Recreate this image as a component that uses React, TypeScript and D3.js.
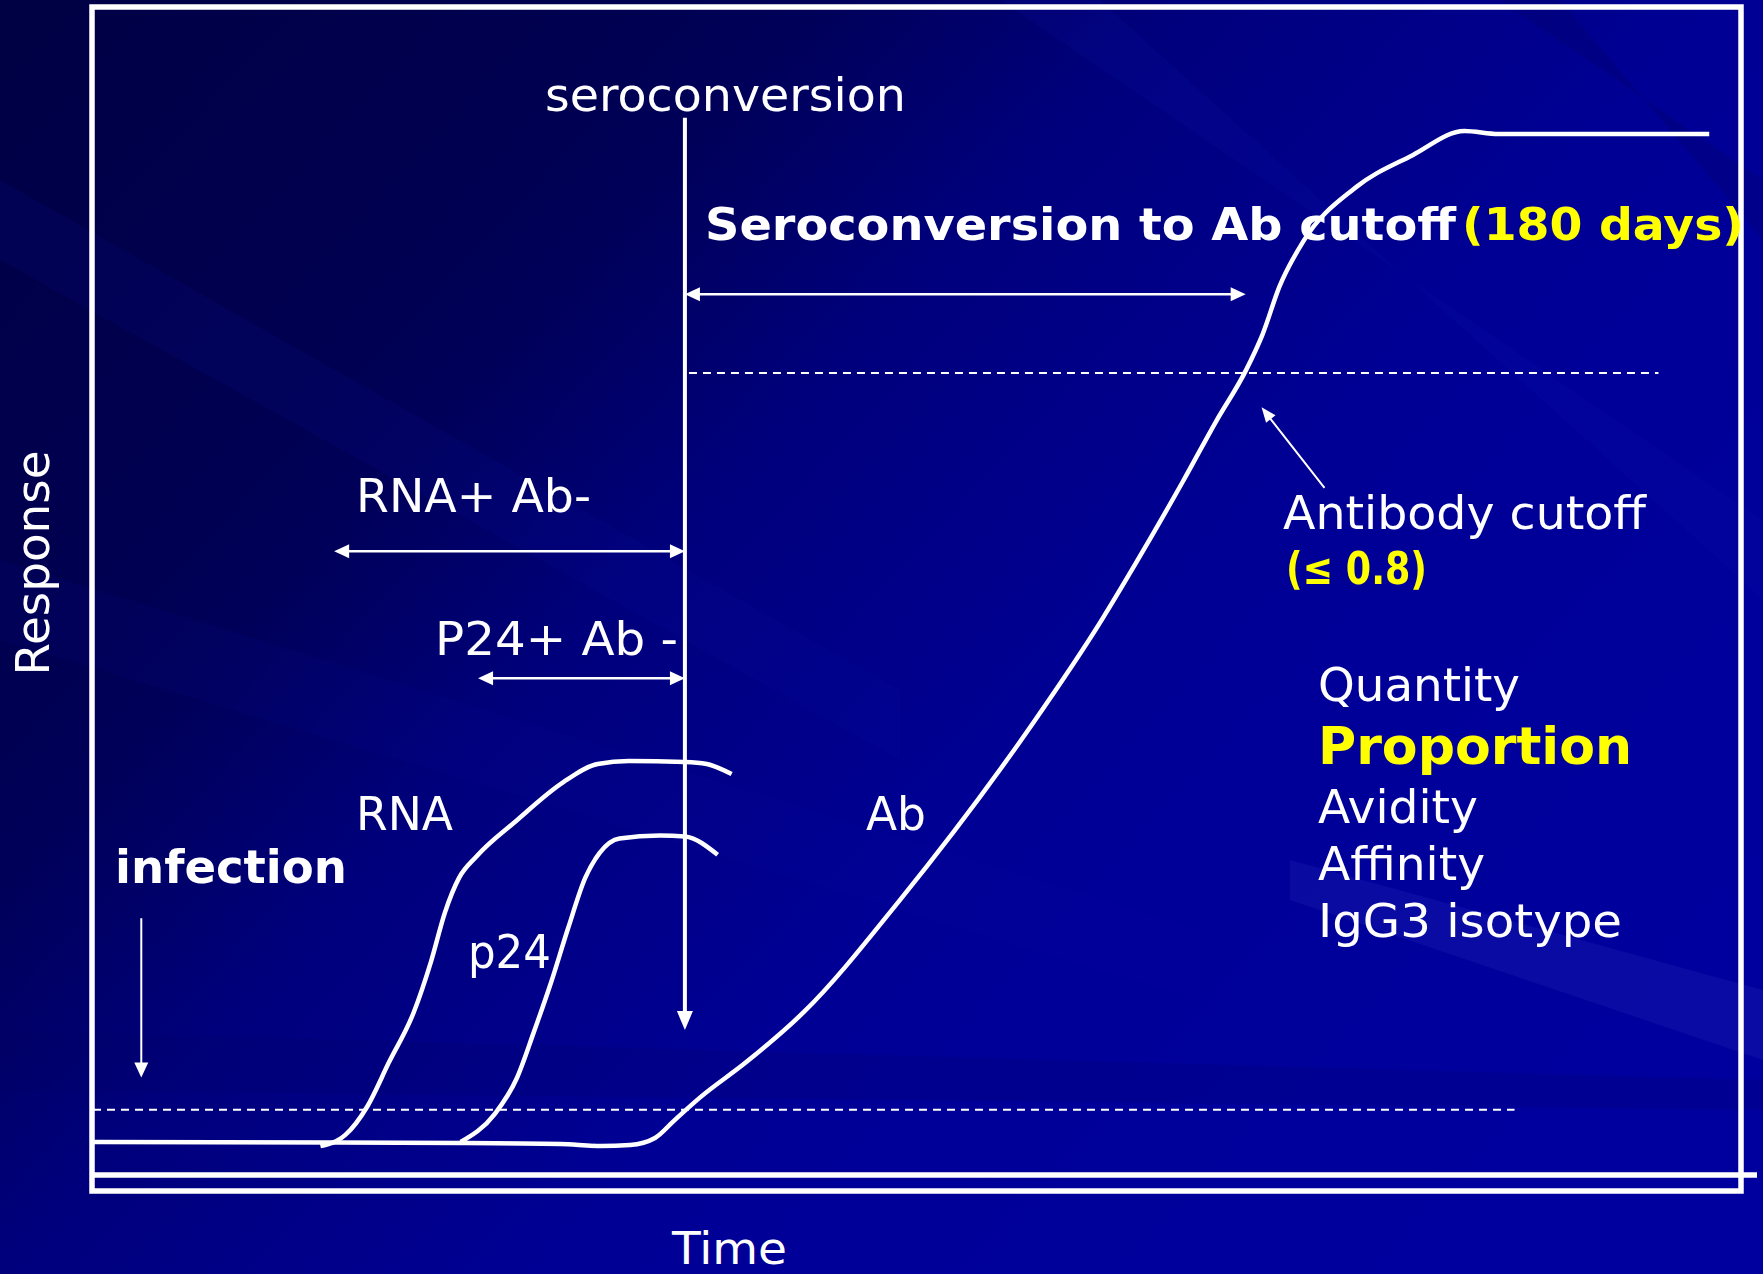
import * as d3 from 'd3'

const W = 1763
const H = 1274

// time in days relative to seroconversion, response in arbitrary units (Ab plateau = 100)
const rnaTime = [-117, -109, -102, -95, -87, -81.5, -77, -72.5, -67, -54, -39, -28, -18, 0, 7, 15]
const rnaResp = [-0.4, 0.7, 3.5, 7.9, 12.9, 17.9, 22.8, 26.2, 28.3, 31.9, 35.7, 37.5, 37.8, 37.7, 37.5, 36.5]

const p24Time = [-72, -61, -54, -48.5, -43, -37.5, -32, -27.3, -21, -8, 0, 10.5]
const p24Resp = [0, 2.8, 6.3, 10.9, 15.8, 21.2, 26.2, 28.7, 30.1, 30.4, 30.3, 28.5]

const abTime = [-190, -72, -40, -27, -17.6, -9.6, -3.2, 4.8, 19.6, 38.2, 69, 111.6, 133.8, 144.7, 159.8, 170.7, 180, 185.4, 190.9, 198.6, 214.9, 233.6, 250.2, 261.1, 328.8]
const abResp = [0, -0.1, -0.2, -0.4, -0.3, 0.4, 2.2, 4.4, 7.9, 12.9, 24, 41.5, 51.8, 57.4, 65.5, 71.6, 76.5, 80.1, 84.9, 89.4, 94.6, 97.9, 100.3, 100, 100]

const seroconversionDay = 0
const cutoffDay = 180
const abCutoff = 76.3
const detectionLimit = 3.2
const rnaWindowStart = -112.6
const p24WindowStart = -66.4
const infectionDay = -174.5

const attributes = ['Quantity', 'Proportion', 'Avidity', 'Affinity', 'IgG3 isotype']

const x = d3.scaleLinear().domain([-190, 339]).range([93, 1741])
const y = d3.scaleLinear().domain([0, 100]).range([1142, 134])

const line = d3
  .line<[number, number]>()
  .x(d => x(d[0]))
  .y(d => y(d[1]))
  .curve(d3.curveMonotoneX)

const zip = (a: number[], b: number[]) => a.map((v, i) => [v, b[i]] as [number, number])

// arrowhead triangle pointing at (tx, ty) from (fx, fy)
function head(fx: number, fy: number, tx: number, ty: number, len: number, half: number) {
  const dx = tx - fx
  const dy = ty - fy
  const l = Math.hypot(dx, dy)
  const ux = dx / l
  const uy = dy / l
  const bx = tx - ux * len
  const by = ty - uy * len
  return `${tx},${ty} ${bx - uy * half},${by + ux * half} ${bx + uy * half},${by - ux * half}`
}

function DoubleArrow({ t0, t1, v }: { t0: number; t1: number; v: number }) {
  const x0 = x(t0)
  const x1 = x(t1)
  const yy = y(v)
  return (
    <g>
      <line x1={x0 + 8} x2={x1 - 8} y1={yy} y2={yy} stroke="white" strokeWidth={2.5} />
      <polygon points={head(x1, yy, x0, yy, 15, 7)} fill="white" />
      <polygon points={head(x0, yy, x1, yy, 15, 7)} fill="white" />
    </g>
  )
}

const sans = 'DejaVu Sans, Verdana, sans-serif'

function Label(props: {
  x: number
  y: number
  w: number
  size: number
  bold?: boolean
  fill?: string
  children: string
}) {
  return (
    <text
      x={props.x}
      y={props.y}
      fontFamily={sans}
      fontSize={props.size}
      fontWeight={props.bold ? 'bold' : 'normal'}
      fill={props.fill ?? 'white'}
      textLength={props.w}
      lengthAdjust="spacingAndGlyphs"
    >
      {props.children}
    </text>
  )
}

export default function App() {
  const sx = x(seroconversionDay)
  const infX = x(infectionDay)
  const ptrTail: [number, number] = [x(205.3), y(64.9)]
  const ptrTip: [number, number] = [x(185.1), y(72.9)]

  const attrY = [701, 764, 823, 880, 937]
  const attrW = [202, 314, 160, 167, 304]

  return (
    <svg
      width={W}
      height={H}
      style={{ position: 'absolute', left: 0, top: 0, display: 'block' }}
    >
      <defs>
        <linearGradient id="bg" gradientUnits="userSpaceOnUse" x1={0} y1={0} x2={1400} y2={1300}>
          <stop offset="0" stopColor="#000044" />
          <stop offset="0.26" stopColor="#000052" />
          <stop offset="0.32" stopColor="#00005a" />
          <stop offset="0.45" stopColor="#00007c" />
          <stop offset="0.66" stopColor="#000094" />
          <stop offset="0.75" stopColor="#000098" />
          <stop offset="1" stopColor="#00009e" />
        </linearGradient>
      </defs>
      <rect width={W} height={H} fill="url(#bg)" />
      {/* diagonal streaks in the backdrop */}
      <g opacity={0.5}>
        <polygon points="0,180 0,260 900,760 900,690" fill="#0a10a0" opacity={0.25} />
        <polygon points="0,560 0,640 1200,1000 1200,930" fill="#0a10a0" opacity={0.2} />
        <polygon points="1000,0 1100,0 1763,600 1763,520" fill="#1018b0" opacity={0.25} />
        <polygon points="1290,860 1763,990 1763,1060 1290,900" fill="#3038c0" opacity={0.4} />
        <polygon points="1500,0 1560,0 1763,240 1763,180" fill="#000060" opacity={0.5} />
        <polygon points="0,1030 1763,1080 1763,1110 0,1090" fill="#000060" opacity={0.35} />
      </g>

      {/* frame */}
      <rect x={92} y={7} width={1649} height={1184} fill="none" stroke="white" strokeWidth={5.5} />
      <line x1={92} x2={1757} y1={1175} y2={1175} stroke="white" strokeWidth={5.5} />

      {/* dashed reference lines */}
      <line x1={x(-190)} x2={x(266.3)} y1={y(detectionLimit)} y2={y(detectionLimit)} stroke="white" strokeWidth={2} strokeDasharray="8 6" />
      <line x1={x(1.3)} x2={x(312.5)} y1={y(abCutoff)} y2={y(abCutoff)} stroke="white" strokeWidth={2} strokeDasharray="8 6" />

      {/* curves */}
      <path d={line(zip(abTime, abResp)) ?? ''} fill="none" stroke="white" strokeWidth={4.5} />
      <path d={line(zip(rnaTime, rnaResp)) ?? ''} fill="none" stroke="white" strokeWidth={4.5} />
      <path d={line(zip(p24Time, p24Resp)) ?? ''} fill="none" stroke="white" strokeWidth={4.5} />

      {/* seroconversion marker */}
      <line x1={sx} x2={sx} y1={y(101.6)} y2={y(11.1) - 16} stroke="white" strokeWidth={4} />
      <polygon points={head(sx, y(30), sx, y(11.1), 19, 8)} fill="white" />

      {/* window arrows */}
      <DoubleArrow t0={seroconversionDay} t1={cutoffDay} v={84.1} />
      <DoubleArrow t0={rnaWindowStart} t1={seroconversionDay} v={58.6} />
      <DoubleArrow t0={p24WindowStart} t1={seroconversionDay} v={46} />

      {/* infection arrow */}
      <line x1={infX} x2={infX} y1={y(22.2)} y2={y(6.4) - 12} stroke="white" strokeWidth={2} />
      <polygon points={head(infX, y(20), infX, y(6.4), 15, 7)} fill="white" />

      {/* antibody cutoff pointer */}
      <line x1={ptrTail[0]} y1={ptrTail[1]} x2={ptrTip[0] + 6} y2={ptrTip[1] + 8} stroke="white" strokeWidth={2} />
      <polygon points={head(ptrTail[0], ptrTail[1], ptrTip[0], ptrTip[1], 15, 6)} fill="white" />

      {/* labels */}
      <Label x={545} y={111} w={361} size={46}>seroconversion</Label>
      <Label x={705} y={240} w={751} size={45} bold>Seroconversion to Ab cutoff</Label>
      <Label x={1462} y={240} w={282} size={45} bold fill="#ffff00">(180 days)</Label>
      <Label x={356} y={512} w={235} size={46}>RNA+ Ab-</Label>
      <Label x={435} y={655} w={243} size={46}>P24+ Ab -</Label>
      <Label x={356} y={830} w={97} size={46}>RNA</Label>
      <Label x={468} y={968} w={83} size={46}>p24</Label>
      <Label x={866} y={830} w={60} size={46}>Ab</Label>
      <Label x={115} y={883} w={232} size={46} bold>infection</Label>
      <Label x={1283} y={529} w={363} size={46}>Antibody cutoff</Label>
      <Label x={1286} y={584} w={141} size={44} bold fill="#ffff00">(≤ 0.8)</Label>
      {attributes.map((a, i) => (
        <Label
          key={a}
          x={1318}
          y={attrY[i]}
          w={attrW[i]}
          size={a === 'Proportion' ? 52 : 46}
          bold={a === 'Proportion'}
          fill={a === 'Proportion' ? '#ffff00' : 'white'}
        >
          {a}
        </Label>
      ))}
      <text
        transform="translate(49,563) rotate(-90)"
        textAnchor="middle"
        fontFamily={sans}
        fontSize={47}
        fill="white"
        textLength={225}
        lengthAdjust="spacingAndGlyphs"
      >
        Response
      </text>
      <Label x={672} y={1264} w={115} size={44}>Time</Label>
    </svg>
  )
}
